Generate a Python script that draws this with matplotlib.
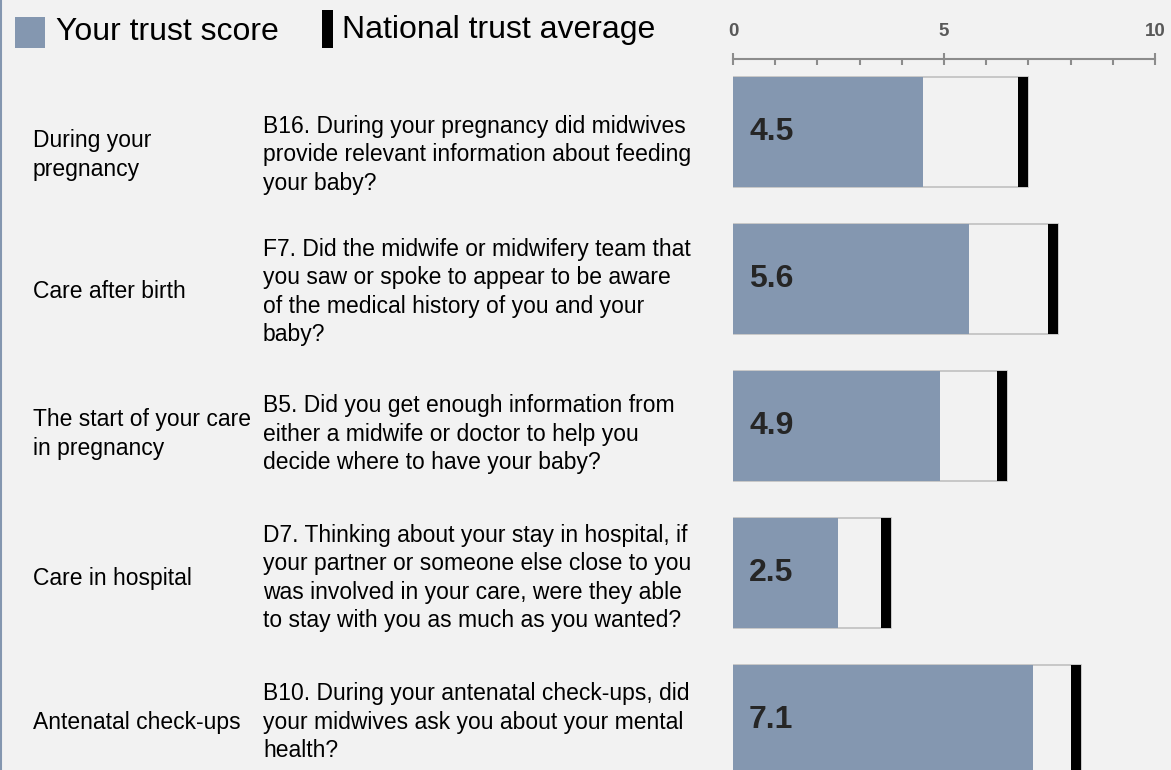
import matplotlib.pyplot as plt
from matplotlib.patches import Rectangle
from matplotlib.lines import Line2D
import numpy as np

# data
sections = ['During your\npregnancy', 'Care after birth', 'The start of your care\nin pregnancy',
            'Care in hospital', 'Antenatal check-ups']
questions = [
    'B16. During your pregnancy did midwives\nprovide relevant information about feeding\nyour baby?',
    'F7. Did the midwife or midwifery team that\nyou saw or spoke to appear to be aware\nof the medical history of you and your\nbaby?',
    'B5. Did you get enough information from\neither a midwife or doctor to help you\ndecide where to have your baby?',
    'D7. Thinking about your stay in hospital, if\nyour partner or someone else close to you\nwas involved in your care, were they able\nto stay with you as much as you wanted?',
    'B10. During your antenatal check-ups, did\nyour midwives ask you about your mental\nhealth?',
]
trust_score = [4.5, 5.6, 4.9, 2.5, 7.1]
national_avg = [7.0, 7.7, 6.5, 3.75, 8.25]

W, H = 1171, 770
BG = '#f2f2f2'
BLUE = '#8497b0'
plt.rcParams['font.family'] = ['Liberation Sans', 'DejaVu Sans']

fig = plt.figure(figsize=(W / 100, H / 100), dpi=100, facecolor=BG)

def fx(px):
    return px / W

def fy(px):
    return 1 - px / H

# bar axes: x 733..1155, top line at y=59
top, bottom = 59, 770
ax = fig.add_axes([fx(733), fy(bottom), fx(1155 - 733), (bottom - top) / H])
ax.set_facecolor(BG)
pitch = 147
first_c = 132
ax.set_ylim((bottom - first_c) / pitch, (top - first_c) / pitch)
ax.set_xlim(0, 10)

y = np.arange(len(trust_score))
bh = 110 / pitch
mark_w = 0.24
ax.barh(y, national_avg, height=bh, color=BG, edgecolor='#c0c0c0', linewidth=1.2, zorder=1)
ax.barh(y, trust_score, height=bh, color=BLUE, edgecolor='none', zorder=2)
ax.barh(y, [mark_w] * len(y), left=np.array(national_avg) - mark_w, height=bh,
        color='black', edgecolor='none', zorder=3)
for yi, v in zip(y, trust_score):
    ax.text(0.38, yi, f'{v:.1f}', fontsize=23, fontweight='bold', color='#262626',
            va='center', ha='left', zorder=4)

for s in ['bottom', 'left', 'right']:
    ax.spines[s].set_visible(False)
ax.spines['top'].set_color('#8c8c8c')
ax.spines['top'].set_linewidth(1.5)
ax.xaxis.set_ticks_position('top')
ax.set_xticks([0, 5, 10])
ax.set_xticks(np.arange(0, 11, 1), minor=True)
ax.tick_params(axis='x', which='major', direction='inout', length=8, width=1.5,
               color='#8c8c8c', pad=10, labelsize=13.5, labelcolor='#595959')
ax.tick_params(axis='x', which='minor', direction='in', length=4, width=1.5, color='#8c8c8c')
for lab in ax.get_xticklabels():
    lab.set_fontweight('bold')
ax.set_yticks([])

# row texts
text_nudge = [23, 13, 8, 5, 2]
for i, (sec, q) in enumerate(zip(sections, questions)):
    cy = first_c + pitch * i + text_nudge[i]
    fig.text(fx(33), fy(cy), sec, fontsize=16.5, va='center', ha='left', linespacing=1.3)
    fig.text(fx(263), fy(cy), q, fontsize=16.5, va='center', ha='left', linespacing=1.3)

# legend
fig.patches.append(Rectangle((fx(15), fy(48)), fx(30), 31 / H, transform=fig.transFigure,
                             facecolor=BLUE, edgecolor='none'))
fig.text(fx(56), fy(32), 'Your trust score', fontsize=23, va='center', ha='left')
fig.patches.append(Rectangle((fx(322), fy(48)), fx(11), 38 / H, transform=fig.transFigure,
                             facecolor='black', edgecolor='none'))
fig.text(fx(342), fy(30), 'National trust average', fontsize=23, va='center', ha='left')

# left border
fig.add_artist(Line2D([fx(0.5), fx(0.5)], [0, 1], transform=fig.transFigure, color=BLUE, linewidth=1.5))

fig.savefig('out.png', dpi=100, facecolor=BG)
